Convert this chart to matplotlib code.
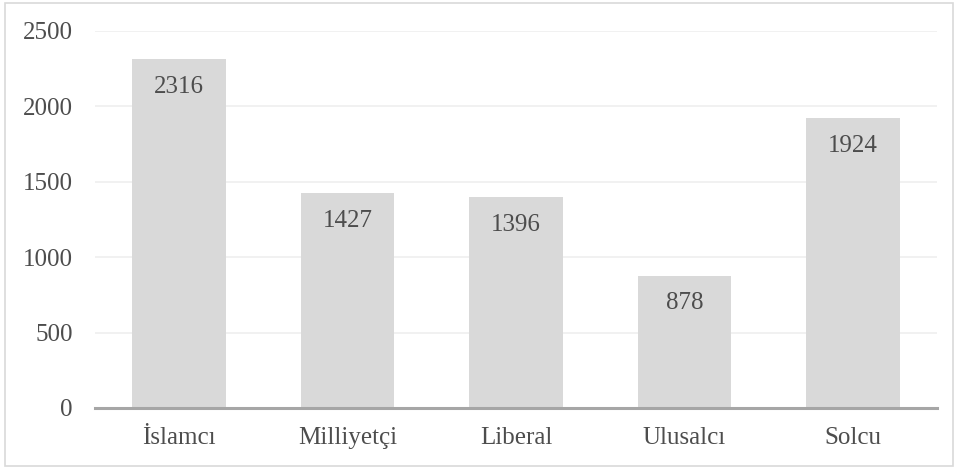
import matplotlib
matplotlib.use('Agg')
import matplotlib.pyplot as plt
from matplotlib.patches import Rectangle

# data
categories = ['İslamcı', 'Milliyetçi', 'Liberal', 'Ulusalcı', 'Solcu']
values = [2316, 1427, 1396, 878, 1924]
yticks = [0, 500, 1000, 1500, 2000, 2500]

plt.rcParams['font.family'] = ['Liberation Serif', 'DejaVu Serif']
text_color = '#4d4d4d'

fig = plt.figure(figsize=(9.59, 4.70), dpi=100)
ax = fig.add_axes([95/959, 1 - 408/470, 842/959, 377/470])

x = range(len(categories))
ax.bar(x, values, width=0.556, color='#d9d9d9', zorder=2)

# value labels inside the top of each bar
for i, v in zip(x, values):
    ax.text(i, v - 185, str(v), ha='center', va='center', fontsize=18, color=text_color, zorder=3)

ax.set_xlim(-0.5, len(categories) - 0.5)
ax.set_ylim(0, 2500)
ax.set_yticks(yticks)
ax.set_xticks(list(x))
ax.set_xticklabels(categories)
ax.tick_params(axis='both', length=0, labelsize=18, labelcolor=text_color)
ax.tick_params(axis='y', pad=16)
ax.tick_params(axis='x', pad=14)

ax.grid(axis='y', color='#efefef', linewidth=1.2, zorder=0)
for s in ['top', 'right', 'left']:
    ax.spines[s].set_visible(False)
ax.spines['bottom'].set_color('#a6a6a6')
ax.spines['bottom'].set_linewidth(2.2)
ax.spines['bottom'].set_zorder(4)

# outer chart border
fig.patches.append(Rectangle((5/959, 4/470), 948/959, 463/470, transform=fig.transFigure,
                             fill=False, edgecolor='#d9d9d9', linewidth=1.2))

fig.savefig('out.png', dpi=100)
